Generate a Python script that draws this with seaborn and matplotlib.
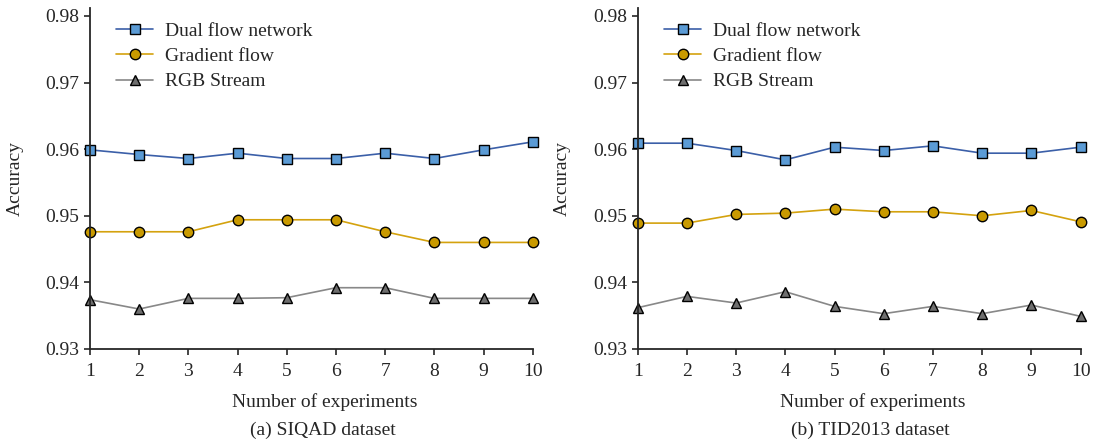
import numpy as np
import matplotlib
matplotlib.use("Agg")
import matplotlib.pyplot as plt
import seaborn as sns

# data
experiments = [1, 2, 3, 4, 5, 6, 7, 8, 9, 10]

siqad_dual = [0.9599, 0.9592, 0.9586, 0.9594, 0.9586, 0.9586, 0.9594, 0.9586, 0.9599, 0.9611]
siqad_grad = [0.9476, 0.9476, 0.9476, 0.9494, 0.9494, 0.9494, 0.9476, 0.9460, 0.9460, 0.9460]
siqad_rgb = [0.9374, 0.9360, 0.9376, 0.9376, 0.9377, 0.9392, 0.9392, 0.9376, 0.9376, 0.9376]

tid_dual = [0.9609, 0.9609, 0.9598, 0.9584, 0.9603, 0.9598, 0.9605, 0.9594, 0.9594, 0.9603]
tid_grad = [0.9489, 0.9489, 0.9502, 0.9504, 0.9510, 0.9506, 0.9506, 0.9500, 0.9508, 0.9491]
tid_rgb = [0.9362, 0.9379, 0.9369, 0.9386, 0.9364, 0.9353, 0.9364, 0.9353, 0.9366, 0.9349]

series_names = ["Dual flow network", "Gradient flow", "RGB Stream"]
y_ticks = [0.93, 0.94, 0.95, 0.96, 0.97, 0.98]
captions = ["(a) SIQAD dataset", "(b) TID2013 dataset"]

sns.set_style("ticks")
plt.rcParams['font.family'] = ['Liberation Serif', 'DejaVu Serif']
fs = 14

styles = [
    dict(marker='s', color='#3b5fa8', markerfacecolor='#5b9bd5', markersize=7.5),
    dict(marker='o', color='#d4a20e', markerfacecolor='#c99a00', markersize=7.5),
    dict(marker='^', color='#888888', markerfacecolor='#6e6e6e', markersize=7.5),
]

fig, axes = plt.subplots(1, 2, figsize=(10.97, 4.44), dpi=100)
plt.subplots_adjust(left=0.082, right=0.985, top=0.982, bottom=0.214, wspace=0.237)

panels = [(siqad_dual, siqad_grad, siqad_rgb), (tid_dual, tid_grad, tid_rgb)]
for ax, vals, cap in zip(axes, panels, captions):
    for name, v, st in zip(series_names, vals, styles):
        sns.lineplot(x=experiments, y=v, ax=ax, label=name, linewidth=1.2,
                     markeredgecolor='black', markeredgewidth=1.0, clip_on=False, **st)
    ax.set_xlim(1, 10)
    ax.set_ylim(0.93, 0.9812)
    ax.set_xticks(experiments)
    ax.set_yticks(y_ticks)
    ax.set_yticklabels([f'{t:.2f}' for t in y_ticks])
    ax.tick_params(direction='out', length=4, width=1.2, labelsize=fs)
    ax.tick_params(axis='x', pad=6)
    for s in ['left', 'bottom']:
        ax.spines[s].set_linewidth(1.3)
    sns.despine(ax=ax)
    ax.set_ylabel('Accuracy', fontsize=fs)
    ax.yaxis.set_label_coords(-0.15, 0.5)
    ax.set_xlabel('Number of experiments', fontsize=fs)
    ax.xaxis.set_label_coords(0.53, -0.13)
    ax.text(0.525, -0.2395, cap, transform=ax.transAxes, ha='center', va='center', fontsize=fs)
    ax.legend(loc='upper left', frameon=False, fontsize=fs, handlelength=1.9,
              handletextpad=0.6, bbox_to_anchor=(0.02, 1.01), labelspacing=0.4)

plt.savefig('out.png', dpi=100)
